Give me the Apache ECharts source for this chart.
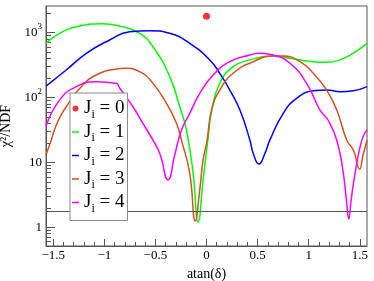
<!DOCTYPE html>
<html><head><meta charset="utf-8">
<script src="https://cdn.jsdelivr.net/npm/echarts@6/dist/echarts.min.js"></script>
<style>html,body{margin:0;padding:0;background:#fff}#c{width:374px;height:281px}</style>
</head><body><div id="c"></div>
<script>
// ---- data (atan(delta), chi2/NDF) ----
const j0X = [0];
const j0Chi2 = [1790];

const j1X = [-1.571,-1.438,-1.242,-1.016,-0.85,-0.654,-0.524,-0.36,-0.262,-0.196,-0.131,-0.082,-0.033,0.013,0.052,0.13,0.258,0.425,0.65,0.817,0.98,1.176,1.307,1.434,1.571];
const j1Chi2 = [684,975,1260,1370,1260,975,606,210,72,31.5,6.8,1.2,5.4,22,64,166,296,380,437,402,365,348,380,480,684];

const j2X = [-1.571,-1.373,-1.176,-0.948,-0.752,-0.556,-0.36,-0.164,0.032,0.13,0.228,0.327,0.425,0.457,0.513,0.572,0.62,0.751,0.882,1.045,1.176,1.307,1.437,1.571];
const j2Chi2 = [150,265,480,769,1032,1070,975,684,378,236,130,64,22,13.8,9.45,13.8,22,57,97,127,131,123,127,147];

const j3X = [-1.571,-1.52,-1.458,-1.373,-1.21,-1.046,-0.882,-0.8,-0.654,-0.524,-0.392,-0.294,-0.245,-0.164,-0.11,-0.066,-0.033,0.006,0.049,0.13,0.261,0.457,0.653,0.751,0.915,1.045,1.176,1.275,1.373,1.437,1.498,1.532,1.571];
const j3Chi2 = [13,22,42,72,156,236,275,282,250,165,81,40,22,6.8,1.25,3.8,10.9,22,64,130,236,356,436,436,356,236,130,64,22,15.5,7.9,13,22];

const j4X = [-1.571,-1.438,-1.275,-1.078,-0.882,-0.85,-0.72,-0.622,-0.524,-0.458,-0.376,-0.311,-0.245,-0.164,-0.066,0.065,0.228,0.425,0.523,0.653,0.817,0.98,1.111,1.189,1.275,1.339,1.37,1.392,1.415,1.454,1.52,1.571];
const j4Chi2 = [36,91,147,175,165,140,72,40,22,13.8,5.4,13,31.5,57,116,222,356,452,480,452,337,165,64,45,22,6.8,2.6,1.34,2.6,6.8,22,32];

const threshold = [1.78];

const seriesNames = ['J0','J1','J2','J3','J4'];
const seriesColors = ['#ff0000','#00ff00','#0000ff','#d4521f','#ff00ff'];

const xRange = [-1.5708, 1.5708];
const yRange = [0.515, 2570];
const xTickLabels = [-1.5,-1,-0.5,0,0.5,1,1.5];
const xMinorTicks = [-1.5,-1.4,-1.3,-1.2,-1.1,-1,-0.9,-0.8,-0.7,-0.6,-0.5,-0.4,-0.3,-0.2,-0.1,0,0.1,0.2,0.3,0.4,0.5,0.6,0.7,0.8,0.9,1,1.1,1.2,1.3,1.4,1.5];
const yTickLabels = [1,10,100,1000];
const yMinorTicks = [0.6,0.7,0.8,0.9,2,3,4,5,6,7,8,9,20,30,40,50,60,70,80,90,200,300,400,500,600,700,800,900,2000];

// ---- build ----
const L = v => Math.log10(v);
const pairs = (xs, ys) => xs.map((x, i) => [x, L(ys[i])]);
const serif = 'Liberation Serif';
const lineIcon = 'path://M0,0M0,6M0,2.25L7,2.25L7,3.75L0,3.75Z';

const lineSeries = (idx, xs, ys) => ({
  name: seriesNames[idx], type: 'line', data: pairs(xs, ys),
  symbol: 'none', smooth: 0.5,
  lineStyle: { color: seriesColors[idx], width: 1.5 },
  itemStyle: { color: seriesColors[idx] },
  z: 3
});

const supFmt = v => {
  const r = Math.round(v);
  if (r === 0) return '{n|1}';
  if (r === 1) return '{n|10}';
  return '{n|10}{s|' + r + '}';
};

const option = {
  animation: false,
  backgroundColor: '#fff',
  grid: { left: 46, right: 7, top: 6, bottom: 35, show: true, borderColor: '#555', borderWidth: 1, containLabel: false, outerBoundsMode: 'none' },
  xAxis: [
    { type: 'value', min: xRange[0], max: xRange[1], position: 'bottom',
      axisLine: { show: true, onZero: false, lineStyle: { color: '#555', width: 1 } },
      axisTick: { show: true, inside: true, length: 7, customValues: xTickLabels, lineStyle: { color: '#555' } },
      axisLabel: { show: true, customValues: xTickLabels, margin: 3, color: '#000', fontFamily: serif, fontSize: 13,
        formatter: v => String(v).replace('-', '\u2212') },
      splitLine: { show: false },
      name: 'atan(\u03b4)', nameLocation: 'middle', nameGap: 19,
      nameTextStyle: { fontFamily: serif, fontSize: 14, color: '#000' } },
    { type: 'value', min: xRange[0], max: xRange[1], position: 'bottom',
      axisLine: { show: false, onZero: false },
      axisTick: { show: true, inside: true, length: 4, customValues: xMinorTicks, lineStyle: { color: '#555' } },
      axisLabel: { show: false }, splitLine: { show: false } }
  ],
  yAxis: [
    { type: 'value', min: L(yRange[0]), max: L(yRange[1]), position: 'left',
      axisLine: { show: true, onZero: false, lineStyle: { color: '#555', width: 1 } },
      axisTick: { show: true, inside: true, length: 9, customValues: yTickLabels.map(L), lineStyle: { color: '#555' } },
      axisLabel: { show: true, customValues: yTickLabels.map(L), margin: 4, formatter: supFmt,
        rich: {
          n: { fontFamily: serif, fontSize: 13, color: '#000', lineHeight: 20, verticalAlign: 'middle' },
          s: { fontFamily: serif, fontSize: 9, color: '#000', lineHeight: 9, verticalAlign: 'top' }
        } },
      splitLine: { show: false },
      name: '\u03c7\u00b2/NDF', nameLocation: 'middle', nameGap: 26, nameRotate: 90,
      nameTextStyle: { fontFamily: serif, fontSize: 14, color: '#000' } },
    { type: 'value', min: L(yRange[0]), max: L(yRange[1]), position: 'left',
      axisLine: { show: false, onZero: false },
      axisTick: { show: true, inside: true, length: 5, customValues: yMinorTicks.map(L), lineStyle: { color: '#555' } },
      axisLabel: { show: false }, splitLine: { show: false } }
  ],
  legend: {
    orient: 'vertical', left: 70, top: 93,
    backgroundColor: '#fff', borderColor: '#888', borderWidth: 1,
    padding: [6, 3, 6, 2], itemGap: 2, itemWidth: 7, itemHeight: 6,
    data: [
      { name: 'J0', icon: 'circle' },
      { name: 'J1', icon: lineIcon },
      { name: 'J2', icon: lineIcon },
      { name: 'J3', icon: lineIcon },
      { name: 'J4', icon: lineIcon }
    ],
    formatter: name => '{a|J}{b|i}{a| = ' + name.slice(1) + '}',
    textStyle: {
      rich: {
        a: { fontFamily: serif, fontSize: 19, color: '#000', lineHeight: 24, verticalAlign: 'middle' },
        b: { fontFamily: serif, fontSize: 12, color: '#000', lineHeight: 12, verticalAlign: 'bottom' }
      }
    },
    z: 10
  },
  series: [
    { name: seriesNames[0], type: 'scatter', data: pairs(j0X, j0Chi2), symbol: 'circle', symbolSize: 7,
      itemStyle: { color: seriesColors[0] }, z: 4 },
    Object.assign(lineSeries(1, j1X, j1Chi2), {
      markLine: { silent: true, symbol: 'none', label: { show: false },
        lineStyle: { color: '#555', width: 1, type: 'solid' },
        data: threshold.map(t => ({ yAxis: L(t) })) } }),
    lineSeries(2, j2X, j2Chi2),
    lineSeries(3, j3X, j3Chi2),
    lineSeries(4, j4X, j4Chi2)
  ]
};

const chart = echarts.init(document.getElementById('c'), null, { renderer: 'canvas' });
chart.setOption(option);
</script>
</body></html>
